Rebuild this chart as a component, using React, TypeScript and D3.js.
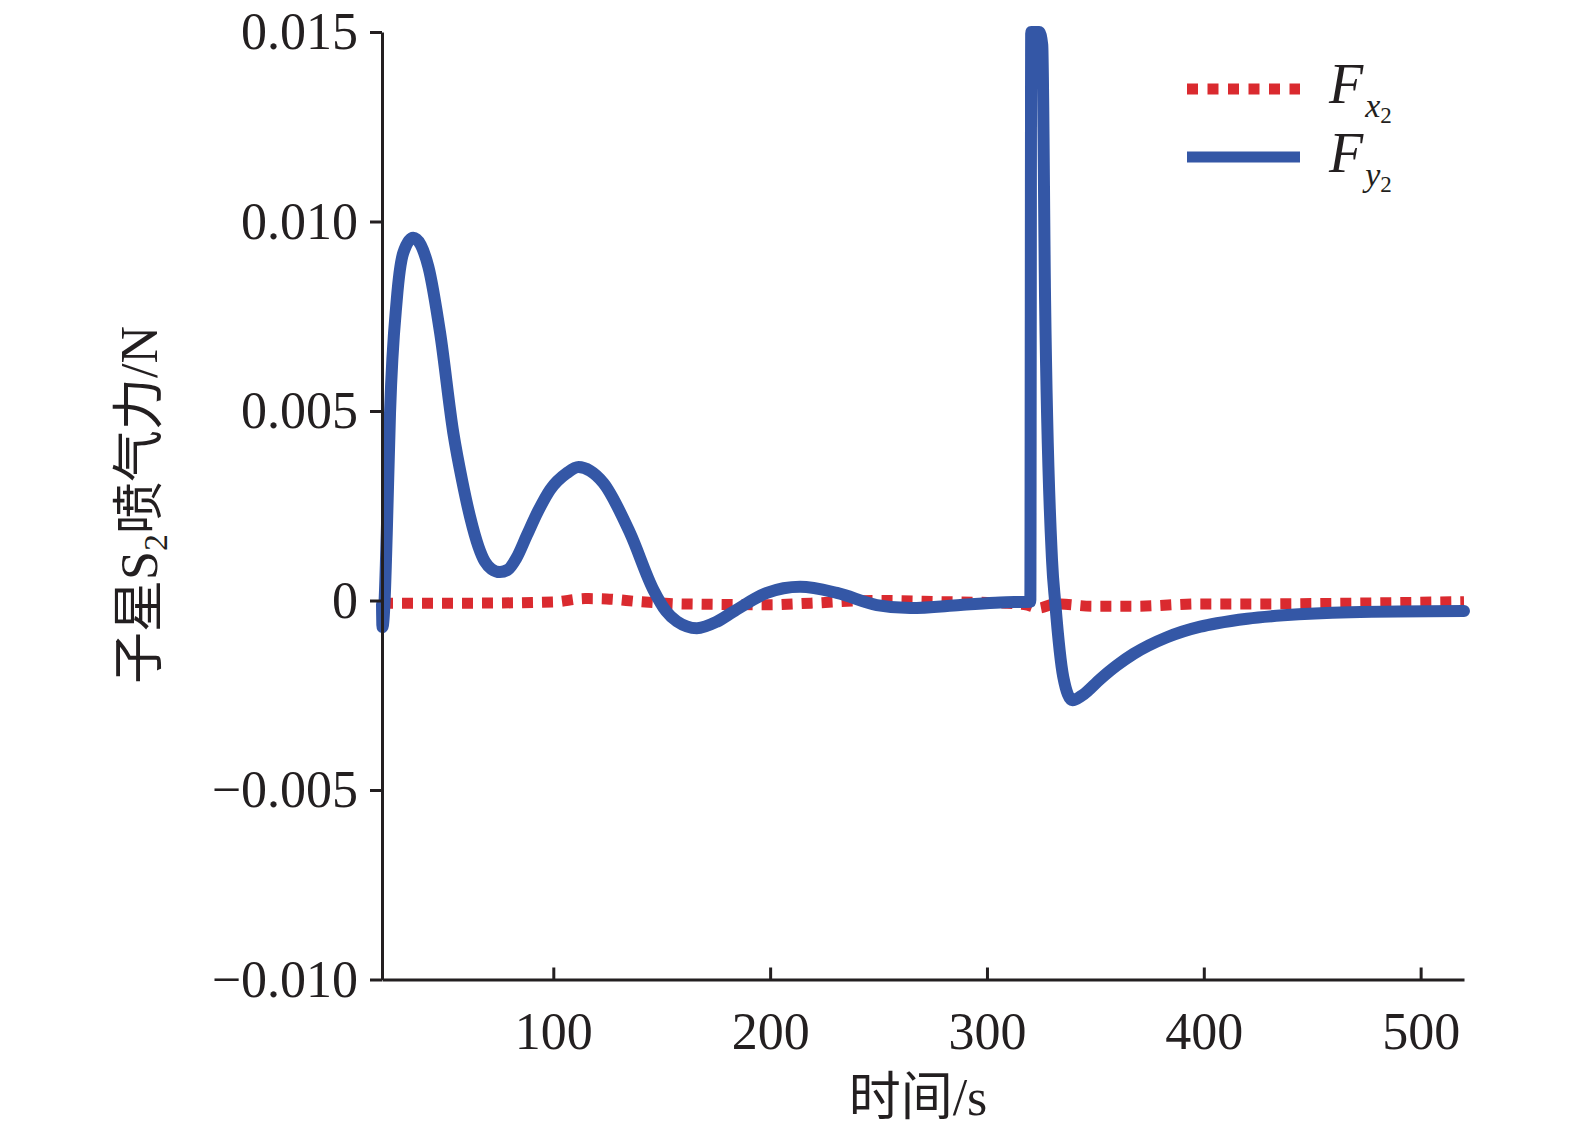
import { useEffect, useRef } from 'react';
import * as d3 from 'd3';

const xTicks = [100, 200, 300, 400, 500];
const yTicks = [-0.01, -0.005, 0, 0.005, 0.01, 0.015];

// [time s, force N]
const fx2Data: [number, number][] = [
  [21, -0.00007], [59.8, -0.00007], [99.7, -0.00004], [114.7, 0.00005],
  [124.6, 0.00004], [139.6, -0.00003], [159.4, -0.00009], [199.1, -0.00011],
  [218.9, -0.00007], [248.9, 0], [278.9, -0.00003], [308.7, -0.00007],
  [318.6, -0.00012], [323.7, -0.0002], [331.5, -0.00009], [348.6, -0.00015],
  [368.4, -0.00015], [398.4, -0.00009], [427.9, -0.00009], [468.1, -0.00007],
  [520, -0.00003],
];

const fy2Data: [number, number][] = [
  [21, -0.0001], [21.2, -0.0007], [22.2, 0], [23.2, 0.00178], [24.7, 0.00495],
  [27.8, 0.00793], [30.8, 0.00917], [35.4, 0.00957], [42.4, 0.0088],
  [47.8, 0.00706], [53.9, 0.00442], [58, 0.00315], [61.6, 0.00221], [65.5, 0.00142],
  [68.5, 0.00102], [71.5, 0.00083], [75.4, 0.00075], [79, 0.00081], [83, 0.00112],
  [87.8, 0.00172], [93, 0.00236], [98.5, 0.00292],
  [106.2, 0.00336], [111.6, 0.00352], [117, 0.00342], [123.1, 0.0031], [135.4, 0.00178],
  [146.2, 0.00028], [152, -0.00028], [157, -0.00055], [166.2, -0.00073], [175.4, -0.00056],
  [182.9, -0.0003], [198.5, 0.0002], [213.8, 0.00036], [230.8, 0.0002],
  [249.2, -0.00012], [264.6, -0.0002], [287.7, -0.00012], [306.1, -0.00005],
  [320.0, -0.00003], [320.4, 0.015], [324.1, 0.015], [325.5, 0.01466],
  [326.8, 0.00793], [330, 0.00107], [331.5, -0.00007], [335.2, -0.00202],
  [339.4, -0.00263], [344, -0.0025], [352.3, -0.00207], [360, -0.00171], [367.6, -0.00141],
  [383, -0.00097], [398.4, -0.00069], [406.1, -0.0006], [420, -0.00048], [436.7, -0.00039],
  [467.6, -0.00031], [520, -0.00028],
];

const RED = '#da2a2f';
const BLUE = '#3457a6';
const INK = '#231f20';
const SERIF = '"Liberation Serif", "Times New Roman", serif';
const CJK = '"Noto Sans CJK SC", sans-serif';

export default function App() {
  const svgRef = useRef<SVGSVGElement>(null);

  useEffect(() => {
    if (!svgRef.current) return;
    const svg = d3.select(svgRef.current);
    svg.selectAll('*').remove();

    const x = d3.scaleLinear().domain([21, 520]).range([382, 1464]);
    const y = d3.scaleLinear().domain([-0.01, 0.015]).range([979.5, 32]);

    const line = d3.line<[number, number]>()
      .x(d => x(d[0]))
      .y(d => y(d[1]))
      .curve(d3.curveMonotoneX);

    // red dashed Fx2
    svg.append('path')
      .datum(fx2Data)
      .attr('fill', 'none')
      .attr('stroke', RED)
      .attr('stroke-width', 11)
      .attr('stroke-dasharray', '11,9')
      .attr('d', line);

    // blue solid Fy2
    svg.append('path')
      .datum(fy2Data)
      .attr('fill', 'none')
      .attr('stroke', BLUE)
      .attr('stroke-width', 12)
      .attr('stroke-linejoin', 'round')
      .attr('stroke-linecap', 'round')
      .attr('d', line);

    // axes
    const fmt = (d: d3.NumberValue) => (+d === 0 ? '0' : d3.format('.3f')(+d));

    const gy = svg.append('g')
      .attr('transform', 'translate(382,0)')
      .call(d3.axisLeft(y).tickValues(yTicks).tickSize(12).tickSizeOuter(0).tickPadding(12).tickFormat(fmt));
    const gx = svg.append('g')
      .attr('transform', `translate(0,${y(-0.01)})`)
      .call(d3.axisBottom(x).tickValues(xTicks).tickSize(-12).tickSizeOuter(0).tickPadding(33));

    [gx, gy].forEach(g => {
      g.select('.domain').attr('stroke', INK).attr('stroke-width', 3);
      g.selectAll('.tick line').attr('stroke', INK).attr('stroke-width', 3);
      g.selectAll('.tick text')
        .attr('fill', INK)
        .style('font-family', SERIF)
        .style('font-size', '52px');
      g.attr('font-family', null).attr('font-size', null);
    });

    // axis titles
    const yl = svg.append('text')
      .attr('transform', 'translate(157,505) rotate(-90)')
      .attr('text-anchor', 'middle')
      .attr('fill', INK)
      .style('font-size', '52px');
    yl.append('tspan').style('font-family', CJK).text('子星');
    yl.append('tspan').style('font-family', SERIF).text('S');
    yl.append('tspan').style('font-family', SERIF).style('font-size', '34px').attr('dy', 10).text('2');
    yl.append('tspan').style('font-family', CJK).attr('dy', -10).text('喷气力');
    yl.append('tspan').style('font-family', SERIF).text('/N');

    const xl = svg.append('text')
      .attr('x', 918)
      .attr('y', 1115)
      .attr('text-anchor', 'middle')
      .attr('fill', INK)
      .style('font-size', '52px');
    xl.append('tspan').style('font-family', CJK).text('时间');
    xl.append('tspan').style('font-family', SERIF).text('/s');

    // legend
    const legend = [
      { cy: 89, color: RED, dash: '11,9.5', sub: 'x', base: 103 },
      { cy: 157, color: BLUE, dash: null, sub: 'y', base: 172 },
    ];
    legend.forEach(l => {
      svg.append('line')
        .attr('x1', 1187).attr('x2', 1300)
        .attr('y1', l.cy).attr('y2', l.cy)
        .attr('stroke', l.color)
        .attr('stroke-width', 11)
        .attr('stroke-dasharray', l.dash);
      const t = svg.append('text')
        .attr('x', 1329)
        .attr('y', l.base)
        .attr('fill', INK)
        .style('font-family', SERIF);
      t.append('tspan').style('font-style', 'italic').style('font-size', '56px').text('F');
      t.append('tspan').style('font-style', 'italic').style('font-size', '34px').attr('dx', 2).attr('dy', 14).text(l.sub);
      t.append('tspan').style('font-size', '23px').attr('dy', 6).text('2');
    });
  }, []);

  return (
    <div style={{ position: 'absolute', left: 0, top: 0 }}>
      <svg ref={svgRef} width={1575} height={1136} style={{ background: '#fff', display: 'block' }}></svg>
    </div>
  );
}
